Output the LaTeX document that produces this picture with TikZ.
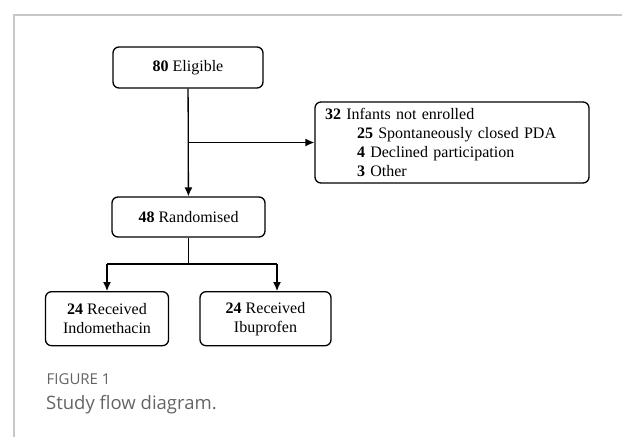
\documentclass[tikz,border=0pt]{standalone}
\usepackage{fontspec}
\setmainfont{Liberation Serif}
\newfontfamily\capfont{Open Sans}
\usetikzlibrary{arrows.meta}
\definecolor{framegray}{RGB}{200,200,200}
\definecolor{capgray}{RGB}{100,100,100}
\tikzset{>={Latex[length=9pt,width=8pt]}}
\tikzset{
  flowbox/.style = {draw,rounded corners=6pt,line width=1.3pt,inner sep=0pt,
    align=center,font=\fontsize{16}{19}\selectfont},
  flowline/.style = {line width=1.3pt}
}

\begin{document}
\begin{tikzpicture}[x=1pt,y=-1pt]
  \useasboundingbox (0,0) rectangle (622,437);
  \draw[framegray,line width=2pt] (622,15) -- (14,15) -- (14,437);

  \node[flowbox,minimum width=150pt,minimum height=41pt] (elig) at (188,67.5) {\textbf{80} Eligible};
  \node[flowbox,minimum height=81pt,text width=254pt,inner xsep=10pt,align=left] (excl) at (452,142.5)
    {\textbf{32} Infants not enrolled\\
     \hspace*{32pt}\textbf{25} Spontaneously closed PDA\\
     \hspace*{32pt}\textbf{4} Declined participation\\
     \hspace*{32pt}\textbf{3} Other};
  \node[flowbox,minimum width=153pt,minimum height=40pt] (rand) at (188.5,217) {\textbf{48} Randomised};
  \node[flowbox,minimum width=123pt,minimum height=54pt] (indo) at (107,318.7) {\textbf{24} Received\\Indomethacin};
  \node[flowbox,minimum width=131pt,minimum height=54pt] (ibu) at (265.5,318.7) {\textbf{24} Received\\Ibuprofen};

  \coordinate (split) at (rand.south |- 0,264);
  \coordinate (lft) at (indo.north |- split);
  \coordinate (rgt) at (277,264);

  \draw[->,flowline] (elig) -- (rand);
  \draw[->,flowline] (elig |- excl.west) -- (excl.west);
  \draw[flowline] (rand.south) -- (split);
  \draw[flowline] (lft) -- (rgt);
  \draw[->,flowline] (lft) -- (indo.north);
  \draw[->,flowline] (rgt) -- (rgt |- ibu.north);

  \node[capgray,anchor=base west,inner sep=0pt,font=\capfont\fontsize{15}{18}\selectfont] (fig) at (46.5,384) {FIGURE 1};
  \node[capgray,anchor=base west,inner sep=0pt,font=\capfont\fontsize{18.5}{22}\selectfont] (cap) at (46,409) {Study flow diagram.};
\end{tikzpicture}
\end{document}
